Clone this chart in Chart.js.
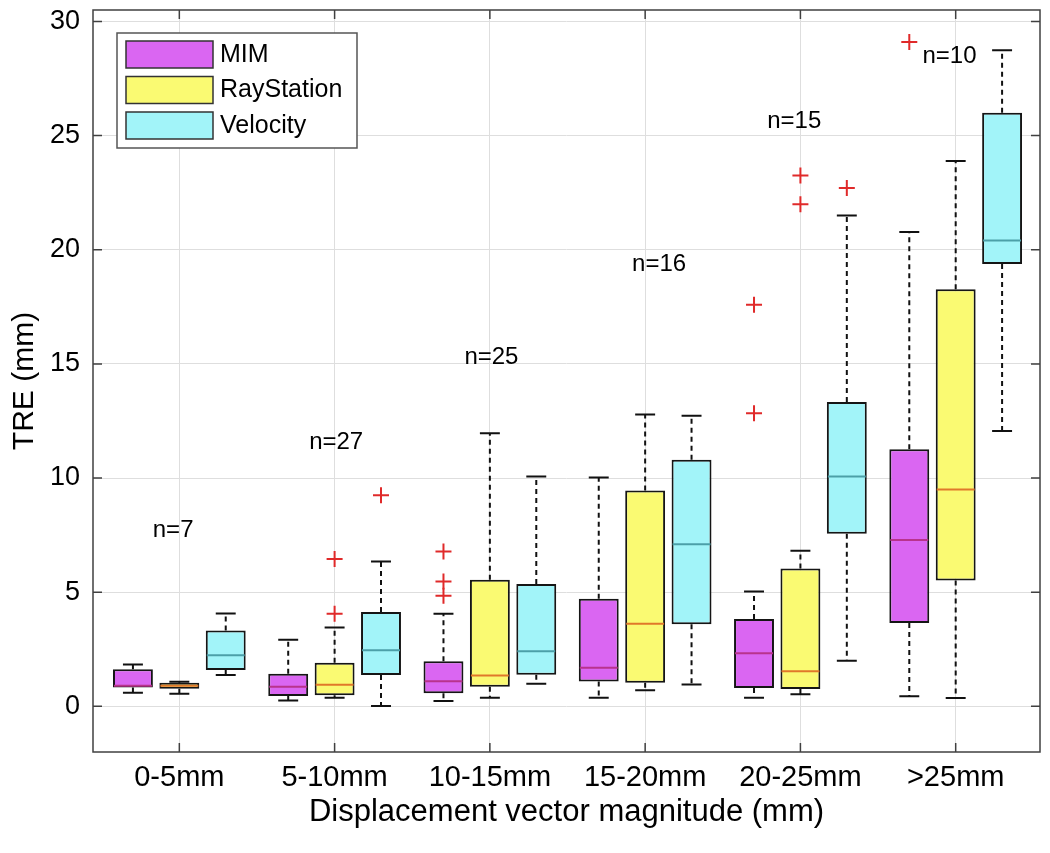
<!DOCTYPE html>
<html>
<head>
<meta charset="utf-8">
<script src="https://cdn.jsdelivr.net/npm/chart.js@4.4.1/dist/chart.umd.min.js"></script>
<style>
  html, body { margin: 0; background: #fff; }
  #wrap { width: 1050px; height: 853px; }
</style>
</head>
<body>
<div id="wrap"><canvas id="tre"></canvas></div>
<script>
// Chart data
const categories = ['0-5mm', '5-10mm', '10-15mm', '15-20mm', '20-25mm', '>25mm'];
const yTicks = [0, 5, 10, 15, 20, 25, 30];
const seriesNames = ['MIM', 'RayStation', 'Velocity'];

// [lower whisker, q1, median, q3, upper whisker] per range
const mimBox = [
  [0.6, 0.82, 0.9, 1.62, 1.83],
  [0.26, 0.45, 0.86, 1.43, 2.92],
  [0.23, 0.57, 1.1, 1.98, 4.06],
  [0.38, 1.09, 1.69, 4.71, 10.02],
  [0.38, 0.8, 2.32, 3.82, 5.03],
  [0.44, 3.65, 7.29, 11.26, 20.78]
];
const rayBox = [
  [0.55, 0.77, 0.9, 1.03, 1.08],
  [0.38, 0.49, 0.95, 1.91, 3.45],
  [0.38, 0.86, 1.35, 5.54, 11.96],
  [0.71, 1.03, 3.62, 9.45, 12.78],
  [0.53, 0.76, 1.54, 6.04, 6.82],
  [0.36, 5.51, 9.5, 18.27, 23.89]
];
const velBox = [
  [1.37, 1.59, 2.24, 3.32, 4.07],
  [0.01, 1.37, 2.46, 4.13, 6.34],
  [0.99, 1.38, 2.41, 5.36, 10.07],
  [0.96, 3.6, 7.1, 10.8, 12.73],
  [2.0, 7.56, 10.07, 13.33, 21.5],
  [12.06, 19.37, 20.4, 26.0, 28.74]
];

// outliers per range
const mimOut = [[], [], [6.78, 5.47, 4.84], [], [17.59, 12.84], [29.1]];
const rayOut = [[], [6.45, 4.06], [], [], [23.25, 21.99], []];
const velOut = [[], [9.25], [], [], [22.7], []];

// sample counts written above each range
const nLabels = ['n=7', 'n=27', 'n=25', 'n=16', 'n=15', 'n=10'];
const nLabelX = [0.96, 2.01, 3.01, 4.09, 4.96, 5.96];
const nLabelY = [7.7, 11.55, 15.3, 19.35, 25.6, 28.45];

// Styles
const FONT = "'Liberation Sans', Arial, sans-serif";
const TEXT = '#000';
const fillColors = ['#da66f2', '#fafa72', '#a2f4f9'];
const medianColors = ['#b8338c', '#e0782a', '#4c9fa8'];
const boxes = [mimBox, rayBox, velBox];
const outs = [mimOut, rayOut, velOut];
const catPct = 0.8965;
const slot = catPct / 3;

const barSets = boxes.map((b, s) => ({
  type: 'bar',
  label: seriesNames[s],
  data: b.map((v, i) => ({ x: i + 1, y: [v[1], v[3]] })),
  backgroundColor: fillColors[s],
  borderColor: '#151515',
  borderWidth: 2,
  borderSkipped: false,
  categoryPercentage: catPct,
  barPercentage: 0.86
}));

const outSets = outs.map((o, s) => ({
  type: 'scatter',
  label: seriesNames[s] + ' outliers',
  data: o.flatMap((vals, i) => vals.map(v => ({ x: i + 1 + (s - 1) * slot, y: v }))),
  pointStyle: 'cross',
  radius: 8,
  borderColor: '#e02a2a',
  borderWidth: 2
}));

// whiskers, medians, n labels, frame and legend
const boxPlotPlugin = {
  id: 'boxplot',
  beforeDatasetsDraw(chart) {
    const ctx = chart.ctx;
    const y = chart.scales.y;
    ctx.save();
    ctx.strokeStyle = '#111';
    ctx.lineWidth = 2;
    boxes.forEach((b, s) => {
      chart.getDatasetMeta(s).data.forEach((bar, i) => {
        const v = b[i];
        const half = bar.width / 4;
        ctx.setLineDash([5, 4]);
        ctx.beginPath();
        ctx.moveTo(bar.x, y.getPixelForValue(v[3]));
        ctx.lineTo(bar.x, y.getPixelForValue(v[4]));
        ctx.moveTo(bar.x, y.getPixelForValue(v[1]));
        ctx.lineTo(bar.x, y.getPixelForValue(v[0]));
        ctx.stroke();
        ctx.setLineDash([]);
        ctx.beginPath();
        [v[0], v[4]].forEach(w => {
          const py = y.getPixelForValue(w);
          ctx.moveTo(bar.x - half, py);
          ctx.lineTo(bar.x + half, py);
        });
        ctx.stroke();
      });
    });
    ctx.restore();
  },
  afterDatasetsDraw(chart) {
    const ctx = chart.ctx;
    const { x, y } = chart.scales;
    ctx.save();
    ctx.lineWidth = 2;
    boxes.forEach((b, s) => {
      ctx.strokeStyle = medianColors[s];
      chart.getDatasetMeta(s).data.forEach((bar, i) => {
        const py = y.getPixelForValue(b[i][2]);
        ctx.beginPath();
        ctx.moveTo(bar.x - bar.width / 2 + 1, py);
        ctx.lineTo(bar.x + bar.width / 2 - 1, py);
        ctx.stroke();
      });
    });
    ctx.fillStyle = TEXT;
    ctx.font = '24px ' + FONT;
    ctx.textAlign = 'center';
    ctx.textBaseline = 'middle';
    nLabels.forEach((t, i) => {
      ctx.fillText(t, x.getPixelForValue(nLabelX[i]), y.getPixelForValue(nLabelY[i]));
    });
    ctx.restore();
  },
  afterDraw(chart) {
    const ctx = chart.ctx;
    const a = chart.chartArea;
    const { x, y } = chart.scales;
    ctx.save();
    ctx.strokeStyle = '#404040';
    ctx.lineWidth = 1.5;
    ctx.strokeRect(a.left, a.top, a.right - a.left, a.bottom - a.top);
    ctx.beginPath();
    yTicks.forEach(v => {
      const py = y.getPixelForValue(v);
      ctx.moveTo(a.left, py); ctx.lineTo(a.left + 9, py);
      ctx.moveTo(a.right, py); ctx.lineTo(a.right - 9, py);
    });
    categories.forEach((c, i) => {
      const px = x.getPixelForValue(i + 1);
      ctx.moveTo(px, a.bottom); ctx.lineTo(px, a.bottom - 9);
      ctx.moveTo(px, a.top); ctx.lineTo(px, a.top + 9);
    });
    ctx.stroke();

    // legend in the upper left corner
    const lx = a.left + 24, ly = a.top + 23;
    ctx.fillStyle = '#fff';
    ctx.fillRect(lx, ly, 240, 115);
    ctx.strokeStyle = '#555';
    ctx.lineWidth = 1.5;
    ctx.strokeRect(lx, ly, 240, 115);
    ctx.font = '25px ' + FONT;
    ctx.textBaseline = 'middle';
    seriesNames.forEach((name, s) => {
      const ry = ly + 8 + s * 35.5;
      ctx.fillStyle = fillColors[s];
      ctx.fillRect(lx + 9, ry, 87, 27);
      ctx.strokeStyle = '#333';
      ctx.strokeRect(lx + 9, ry, 87, 27);
      ctx.fillStyle = TEXT;
      ctx.fillText(name, lx + 103, ry + 14);
    });
    ctx.restore();
  }
};

const ctx = document.getElementById('tre').getContext('2d');
const treChart = new Chart(ctx, {
  type: 'bar',
  data: { datasets: [...barSets, ...outSets] },
  options: {
    responsive: true,
    maintainAspectRatio: false,
    animation: false,
    layout: { padding: { left: 0, top: 5, right: 8, bottom: 0 } },
    plugins: { legend: { display: false }, tooltip: { enabled: false } },
    scales: {
      x: {
        type: 'linear',
        min: 0.444,
        max: 6.543,
        offset: false,
        afterBuildTicks: s => { s.ticks = categories.map((c, i) => ({ value: i + 1 })); },
        afterFit: s => { s.height = 101; s.paddingLeft = 0; s.paddingRight = 0; },
        grid: { color: '#dedede', drawTicks: false, offset: false },
        border: { display: false },
        ticks: {
          padding: 9,
          autoSkip: false,
          maxRotation: 0,
          color: TEXT,
          font: { family: FONT, size: 29 },
          callback: v => categories[Math.round(v) - 1] || ''
        },
        title: {
          display: true,
          text: 'Displacement vector magnitude (mm)',
          color: TEXT,
          font: { family: FONT, size: 31 },
          padding: { top: 0, bottom: 22 }
        }
      },
      y: {
        min: -2,
        max: 30.5,
        afterBuildTicks: s => { s.ticks = yTicks.map(v => ({ value: v })); },
        afterFit: s => { s.width = 93; s.paddingTop = 0; s.paddingBottom = 0; },
        grid: { color: '#dedede', drawTicks: false },
        border: { display: false },
        ticks: { padding: 13, color: TEXT, font: { family: FONT, size: 27 } },
        title: {
          display: true,
          text: 'TRE (mm)',
          color: TEXT,
          font: { family: FONT, size: 30 },
          padding: { top: 7, bottom: 0 }
        }
      }
    }
  },
  plugins: [boxPlotPlugin]
});
</script>
</body>
</html>
